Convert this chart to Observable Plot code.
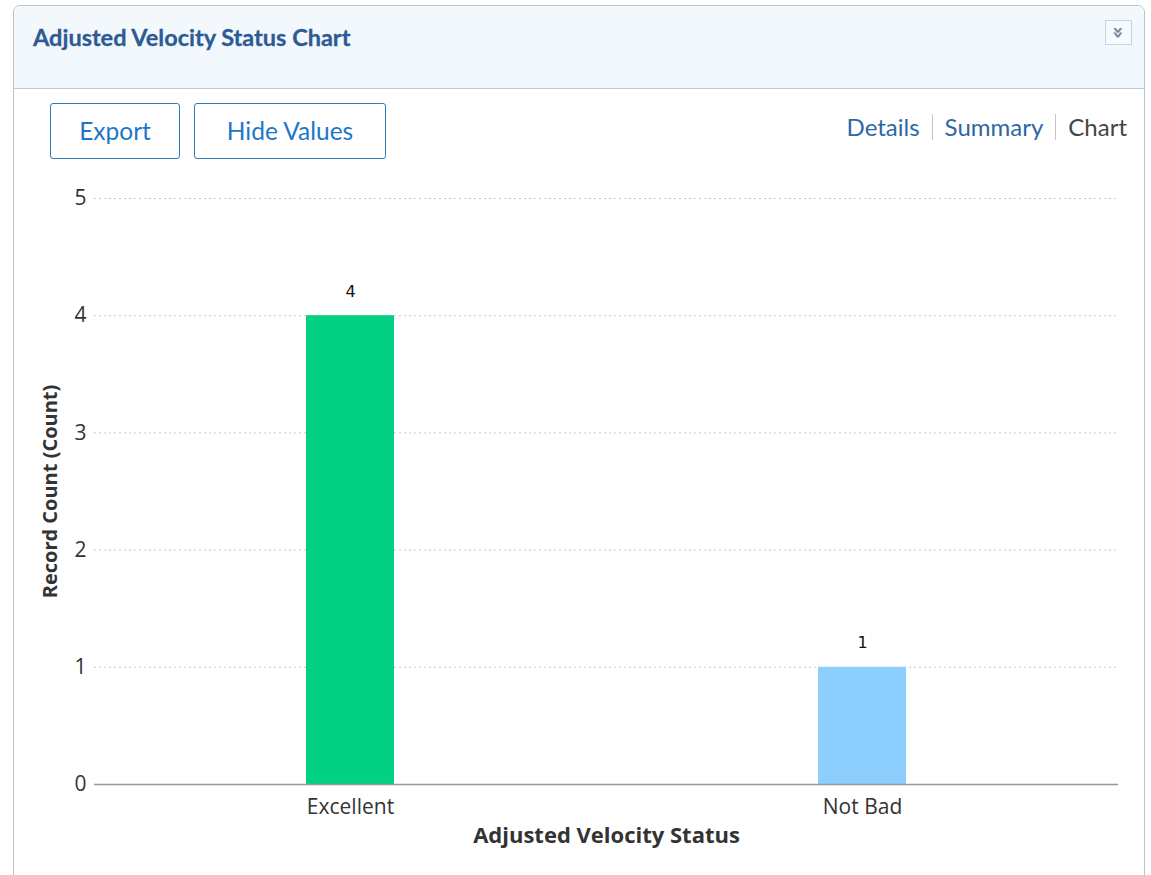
<!DOCTYPE html>
<html>
<head>
<meta charset="utf-8">
<script src="https://cdn.jsdelivr.net/npm/d3@7"></script>
<script src="https://cdn.jsdelivr.net/npm/@observablehq/plot@0.6"></script>
<style>
  html, body { margin: 0; padding: 0; background: #fff; width: 1151px; height: 875px; overflow: hidden; }
  #panel { position: absolute; left: 13px; top: 5px; width: 1130px; height: 900px; border: 1px solid #b9c4cc; border-radius: 7px; background: #fff; }
  #header { position: absolute; left: 0; top: 0; width: 100%; height: 82px; background: #f3f8fc; border-bottom: 1px solid #b7cadb; border-radius: 7px 7px 0 0; }
  #title { position: absolute; left: 19px; top: 17px; font-family: Lato, "Open Sans", sans-serif; font-weight: 700; font-size: 23.5px; color: #2d5b95; -webkit-text-stroke: 0.3px #2d5b95; }
  #collapse { position: absolute; right: 12px; top: 14px; width: 25px; height: 23px; border: 1px solid #c9d6e2; background: #f7fafd; color: #6e8aa5; font-family: "DejaVu Sans", sans-serif; font-size: 20px; font-weight: bold; line-height: 23px; text-align: center; }
  .btn { position: absolute; top: 97px; height: 54px; border: 1px solid #2f7bbf; border-radius: 3px; background: #fff; color: #1e77c6; font-family: Lato, "Open Sans", sans-serif; font-size: 24.5px; line-height: 54px; text-align: center; }
  #links { position: absolute; right: 17px; top: 106px; font-family: Lato, "Open Sans", sans-serif; font-size: 24px; color: #2e67a5; }
  #links .sep { display: inline-block; width: 1px; height: 26px; background: #c4c4c4; margin: 0 12px; vertical-align: -4px; }
  #links .cur { color: #454545; }
  #chart { position: absolute; left: 0; top: 170px; }
  #chart svg [aria-label="y-axis label"] text, #chart svg [aria-label="x-axis label"] text { font-weight: 700; }
  #chart svg [aria-label="x-axis label"] text { font-size: 22px; }
  #chart svg [aria-label="y-axis label"] text { font-size: 20px; }
</style>
</head>
<body>
<div id="panel">
  <div id="header">
    <div id="title">Adjusted Velocity Status Chart</div>
    <div id="collapse"><span style="display:inline-block;transform:rotate(90deg)">»</span></div>
  </div>
  <div class="btn" style="left:36px;width:128px;">Export</div>
  <div class="btn" style="left:180px;width:190px;">Hide Values</div>
  <div id="links"><span>Details</span><span class="sep"></span><span>Summary</span><span class="sep"></span><span class="cur">Chart</span></div>
</div>
<div id="chart"></div>
<script>
const categories = ["Excellent", "Not Bad"];
const counts = [4, 1];
const barColors = ["#02d184", "#8ccfff"];
const yTicks = [0, 1, 2, 3, 4, 5];
const xLabel = "Adjusted Velocity Status";
const yLabel = "Record Count (Count)";

const data = categories.map((c, i) => ({category: c, count: counts[i]}));

const chart = Plot.plot({
  width: 1151,
  height: 690,
  marginTop: 28,
  marginBottom: 76,
  marginLeft: 94,
  marginRight: 33,
  style: { fontFamily: "'Open Sans', sans-serif", fontSize: "21px", color: "#333", background: "transparent" },
  x: {
    domain: categories,
    paddingInner: 0.828,
    paddingOuter: 0.414,
    label: xLabel,
    labelAnchor: "center",
    labelOffset: 58,
    tickSize: 0,
    tickPadding: 15
  },
  y: {
    domain: [0, 5],
    ticks: yTicks,
    tickFormat: "d",
    label: yLabel,
    labelArrow: false,
    labelAnchor: "center",
    labelOffset: 52,
    tickSize: 0,
    tickPadding: 8
  },
  color: { domain: categories, range: barColors },
  marks: [
    Plot.gridY(yTicks.filter(d => d > 0), { stroke: "#c8c8c8", strokeOpacity: 1, strokeDasharray: "2,3" }),
    Plot.barY(data, { x: "category", y: "count", fill: "category" }),
    Plot.ruleY([0], { stroke: "#999", strokeWidth: 1.5 }),
    Plot.text(data, { x: "category", y: "count", text: d => String(d.count), dy: -24, fill: "#111", fontSize: 16, fontFamily: "'DejaVu Sans', sans-serif" })
  ]
});
document.getElementById("chart").appendChild(chart);
</script>
</body>
</html>
